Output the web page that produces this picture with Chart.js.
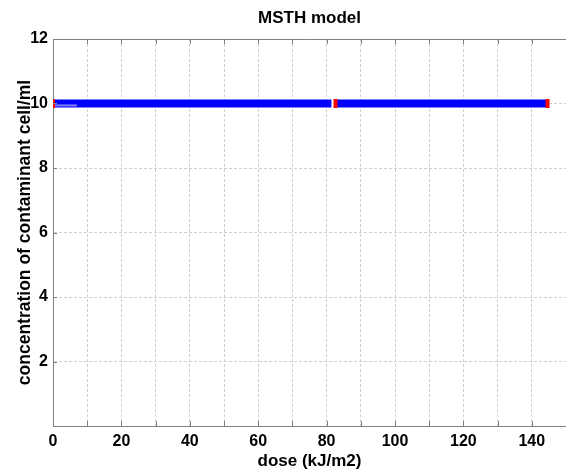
<!DOCTYPE html>
<html>
<head>
<meta charset="utf-8">
<script src="https://cdn.jsdelivr.net/npm/chart.js@4.4.1/dist/chart.umd.min.js"></script>
<style>
  html, body { margin: 0; padding: 0; background: #fff; }
  #wrap { width: 566px; height: 473px; }
</style>
</head>
<body>
<div id="wrap"><canvas id="msth"></canvas></div>
<script>
// ---- data (dose in kJ/m2, concentration in cell/ml) ----
const seg1Dose  = [0, 81.4];
const seg1Conc  = [10, 10];
const seg2Dose  = [82.6, 144.6];
const seg2Conc  = [10, 10];
const faintDose = [0, 7];
const faintConc = [9.94, 9.94];
const markDose  = [0, 82.6, 144.6];
const markConc  = [10, 10, 10];

const xTicks = [0, 20, 40, 60, 80, 100, 120, 140];
const yTicks = [2, 4, 6, 8, 10, 12];

const pts = (xs, ys) => xs.map((x, i) => ({ x: x, y: ys[i] }));

const FONT = 'Arial, "Liberation Sans", Helvetica, sans-serif';
const AXIS = '#808080';

// frame top line + small inward tick marks, like the old plot box
const boxTicks = {
  id: 'boxTicks',
  afterDatasetsDraw(chart) {
    const { ctx, chartArea: a, scales: { x, y } } = chart;
    ctx.save();
    ctx.strokeStyle = AXIS;
    ctx.lineWidth = 1;
    ctx.beginPath();
    ctx.moveTo(a.left, a.top + 0.5);
    ctx.lineTo(a.right, a.top + 0.5);
    x.ticks.forEach(t => {
      const px = Math.round(x.getPixelForValue(t.value)) + 0.5;
      ctx.moveTo(px, a.bottom); ctx.lineTo(px, a.bottom - 5);
      ctx.moveTo(px, a.top);    ctx.lineTo(px, a.top + 5);
    });
    y.ticks.forEach(t => {
      const py = Math.round(y.getPixelForValue(t.value)) + 0.5;
      ctx.moveTo(a.left, py); ctx.lineTo(a.left + 4, py);
    });
    ctx.stroke();
    ctx.restore();
  }
};

const noPad = s => { s.paddingLeft = 0; s.paddingRight = 0; };

new Chart(document.getElementById('msth').getContext('2d'), {
  type: 'line',
  data: {
    datasets: [
      {
        data: pts(markDose, markConc),
        showLine: false,
        pointStyle: 'line',
        pointRotation: 90,
        pointRadius: 4.5,
        pointBorderWidth: 4,
        pointBorderColor: '#ff0000',
        pointBackgroundColor: '#ff0000',
        clip: 0,
        order: 0
      },
      {
        data: pts(faintDose, faintConc),
        borderColor: '#8080f4',
        borderWidth: 2,
        pointRadius: 0,
        order: 1
      },
      {
        data: pts(seg1Dose, seg1Conc),
        borderColor: '#0000ff',
        borderWidth: 8,
        borderCapStyle: 'butt',
        pointRadius: 0,
        order: 2
      },
      {
        data: pts(seg2Dose, seg2Conc),
        borderColor: '#0000ff',
        borderWidth: 8,
        borderCapStyle: 'butt',
        pointRadius: 0,
        order: 2
      }
    ]
  },
  options: {
    responsive: true,
    maintainAspectRatio: false,
    animation: false,
    layout: { padding: 0, autoPadding: false },
    plugins: {
      legend: { display: false },
      tooltip: { enabled: false },
      title: { display: false }
    },
    scales: {
      // top axis only carries the plot title, centred over the plot box
      xTop: {
        type: 'linear',
        position: 'top',
        min: 0, max: 150,
        afterFit: s => { s.height = 39; noPad(s); },
        ticks: { display: false },
        grid: { display: false, drawTicks: false },
        border: { display: false },
        title: {
          display: true,
          text: 'MSTH model',
          color: '#000',
          font: { family: FONT, size: 17, weight: 'bold', lineHeight: 1.2 },
          padding: { top: 8.3, bottom: 0 }
        }
      },
      x: {
        type: 'linear',
        min: 0, max: 150,
        afterFit: s => { s.height = 47; noPad(s); },
        afterBuildTicks: s => { s.ticks = []; for (let v = 0; v <= 150; v += 10) s.ticks.push({ value: v }); },
        ticks: {
          autoSkip: false,
          maxRotation: 0,
          padding: 6,
          color: '#000',
          font: { family: FONT, size: 16, weight: 'bold' },
          callback: v => xTicks.includes(v) ? String(v) : ''
        },
        grid: { color: '#cfcfcf', drawTicks: false },
        border: { color: AXIS, width: 1, dash: [3, 2] },
        title: {
          display: true,
          text: 'dose (kJ/m2)',
          color: '#000',
          font: { family: FONT, size: 17, weight: 'bold', lineHeight: 1.2 },
          padding: { top: 0, bottom: 1.5 }
        }
      },
      y: {
        type: 'linear',
        min: 0, max: 12,
        afterFit: s => { s.width = 53; },
        ticks: {
          stepSize: 2,
          padding: 5,
          color: '#000',
          font: { family: FONT, size: 16, weight: 'bold' },
          callback: v => yTicks.includes(v) ? String(v) : ''
        },
        grid: { color: '#cfcfcf', drawTicks: false },
        border: { color: AXIS, width: 1, dash: [3, 2] },
        title: {
          display: true,
          text: 'concentration of contaminant cell/ml',
          color: '#000',
          font: { family: FONT, size: 17.5, weight: 'bold', lineHeight: 1.2 },
          padding: { top: 15, bottom: 0 }
        }
      }
    }
  },
  plugins: [boxTicks]
});
</script>
</body>
</html>
